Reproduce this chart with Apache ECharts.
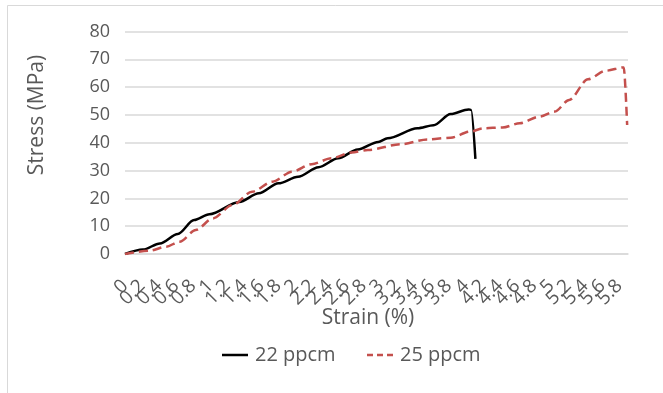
<!DOCTYPE html>
<html>
<head>
<meta charset="utf-8">
<script src="https://cdn.jsdelivr.net/npm/echarts@6/dist/echarts.min.js"></script>
<style>
html,body{margin:0;padding:0;background:#fff;}
#c{width:663px;height:393px;}
</style>
</head>
<body>
<div id="c"></div>
<script>
// Data (strain %, stress MPa)
const strain22 = [0, 0.21, 0.41, 0.62, 0.81, 0.99, 1.34, 1.57, 1.8, 2.03, 2.27, 2.5, 2.73, 2.97, 3.08, 3.43, 3.62, 3.82, 4.03, 4.06, 4.11];
const stress22 = [0, 1.6, 3.8, 7.2, 12.2, 14.3, 18.7, 21.8, 25.4, 27.8, 31.2, 34.4, 37.6, 40.3, 41.6, 45.2, 46.3, 50.3, 52.0, 51.8, 34.2];
const strain25 = [0, 0.29, 0.48, 0.64, 0.83, 1.03, 1.26, 1.49, 1.73, 1.96, 2.19, 2.42, 2.66, 2.85, 3.24, 3.55, 3.82, 4.05, 4.2, 4.43, 4.63, 4.86, 5.04, 5.21, 5.43, 5.64, 5.85, 5.89];
const stress25 = [0, 1.2, 2.6, 4.4, 8.6, 12.8, 17.6, 22.4, 26.0, 29.6, 32.3, 34.4, 36.5, 37.4, 39.5, 41.2, 41.8, 44.0, 45.2, 45.5, 47.0, 49.4, 51.2, 55.4, 62.8, 65.9, 67.1, 46.4];
// x tick labels (every 0.2 %), drawn on a 0.1-step category scale
const xTickLabels = ['0','0.2','0.4','0.6','0.8','1','1.2','1.4','1.6','1.8','2','2.2','2.4','2.6','2.8','3','3.2','3.4','3.6','3.8','4','4.2','4.4','4.6','4.8','5','5.2','5.4','5.6','5.8'];
const seriesNames = ['22 ppcm', '25 ppcm'];
const yTitle = 'Stress (MPa)';
const xTitle = 'Strain (%)';

const pairs = (xs, ys) => xs.map((x, i) => [x, ys[i]]);
const cats = [];
for (let i = 0; i < 60; i++) cats.push(i % 2 === 0 ? xTickLabels[i / 2] : '');

const FONT = '"Open Sans", "Liberation Sans", sans-serif';
const GRAY = '#595959';
const BLACK = '#000000';
const RED = '#c4504d';

const chart = echarts.init(document.getElementById('c'), null, {renderer: 'canvas'});
chart.setOption({
  animation: false,
  backgroundColor: '#fff',
  textStyle: {fontFamily: FONT},
  grid: {left: 125, right: 35, top: 31.5, bottom: 139, containLabel: false},
  xAxis: [{
    type: 'value', min: 0, max: 5.9,
    axisLine: {show: true, lineStyle: {color: '#d9d9d9', width: 1.5}},
    axisTick: {show: false},
    splitLine: {show: false},
    axisLabel: {show: false}
  }, {
    type: 'category', data: cats, boundaryGap: false, position: 'bottom',
    axisLine: {show: false}, axisTick: {show: false}, splitLine: {show: false},
    axisLabel: {
      interval: 0, rotate: 45, color: GRAY, fontSize: 19, fontFamily: FONT, margin: 29
    }
  }],
  yAxis: {
    type: 'value', min: 0, max: 80, interval: 10,
    axisLine: {show: false}, axisTick: {show: false},
    splitLine: {lineStyle: {color: '#d9d9d9', width: 1.5}},
    axisLabel: {color: GRAY, fontSize: 18, fontFamily: FONT, margin: 15}
  },
  graphic: [
    {type: 'rect', left: 5, top: 3, shape: {width: 700, height: 420},
     style: {fill: 'none', stroke: '#d9d9d9', lineWidth: 1}, silent: true},
    {type: 'text', x: 37, y: 115, rotation: Math.PI / 2,
     style: {text: yTitle, fill: GRAY, font: '21px ' + FONT, textAlign: 'center', textVerticalAlign: 'middle'}},
    {type: 'text', x: 368, y: 318,
     style: {text: xTitle, fill: GRAY, font: '21px ' + FONT, textAlign: 'center', textVerticalAlign: 'middle'}},
    {type: 'line', shape: {x1: 222, y1: 355, x2: 248, y2: 355},
     style: {stroke: BLACK, lineWidth: 2.5}},
    {type: 'text', x: 255, y: 355,
     style: {text: seriesNames[0], fill: GRAY, font: '20px ' + FONT, textAlign: 'left', textVerticalAlign: 'middle'}},
    {type: 'line', shape: {x1: 367, y1: 355, x2: 393, y2: 355},
     style: {stroke: RED, lineWidth: 2.5, lineDash: [6, 4]}},
    {type: 'text', x: 400, y: 355,
     style: {text: seriesNames[1], fill: GRAY, font: '20px ' + FONT, textAlign: 'left', textVerticalAlign: 'middle'}}
  ],
  series: [
    {name: seriesNames[0], type: 'line', xAxisIndex: 0, data: pairs(strain22, stress22),
     showSymbol: false, symbol: 'none', smooth: 0.3, smoothMonotone: 'x',
     lineStyle: {color: BLACK, width: 2.5}, itemStyle: {color: BLACK}},
    {name: seriesNames[1], type: 'line', xAxisIndex: 0, data: pairs(strain25, stress25),
     showSymbol: false, symbol: 'none', smooth: 0.3, smoothMonotone: 'x',
     lineStyle: {color: RED, width: 2.5, type: [9, 5]}, itemStyle: {color: RED}}
  ]
});
</script>
</body>
</html>
